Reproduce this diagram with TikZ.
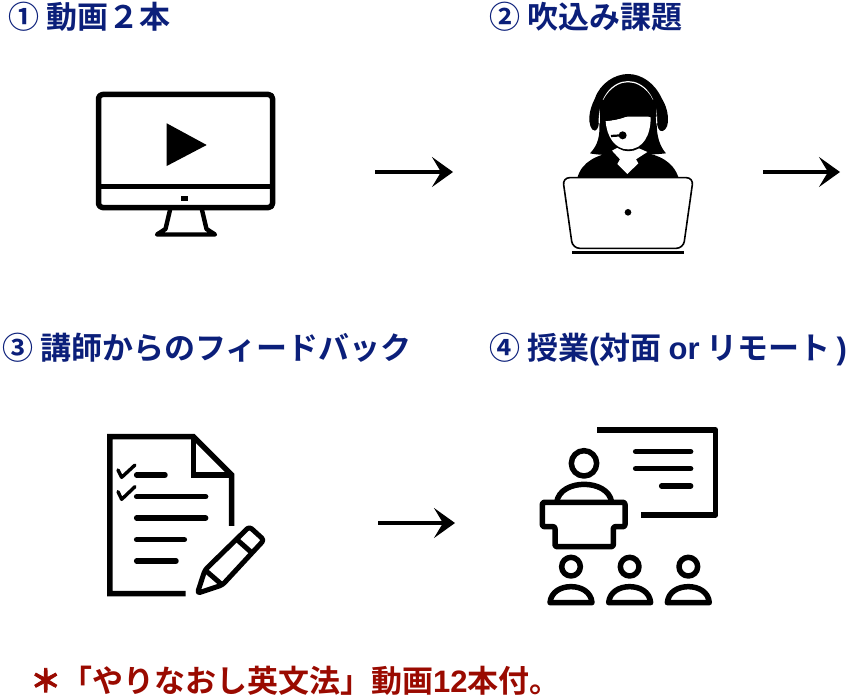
\documentclass[tikz,border=0pt]{standalone}
\usepackage{fontspec}
\usetikzlibrary{arrows.meta}
\newfontfamily\cjk{Noto Sans CJK JP Bold}
\newfontfamily\cjkfat[FakeBold=3]{Noto Sans CJK JP Bold}
\newfontfamily\lat{Liberation Sans Bold}
\definecolor{navy}{HTML}{0B1F7A}
\definecolor{dred}{HTML}{9A0A00}
\tikzset{
 title/.style={anchor=base west,inner sep=0pt,text=navy,font=\cjk\fontsize{31}{31}\selectfont},
 note/.style={anchor=base west,inner sep=0pt,text=dred,font=\cjk\fontsize{31}{31}\selectfont},
 flow/.style={line width=3.6pt,-{Stealth[length=21pt,width=30pt,inset=9pt]}},
 zoomA/.style={shift={(#1)},x=.3333pt,y=-.3333pt},
 ink/.style={line width=5.5pt,line cap=round,line join=round},
 thin ink/.style={line width=3.4pt,line cap=round,line join=round},
}
\begin{document}
\begin{tikzpicture}[x=1pt,y=-1pt]
\useasboundingbox (0,0) rectangle (850,698);
\fill[white] (0,0) rectangle (850,698);
% titles
\node[title] (t1) at (8,29) {① 動画２本};
\node[title] (t2) at (489,29) {② 吹込み課題};
\node[title] (t3) at (2,359) {③ 講師からのフィードバック};
\node[title] (t4) at (489,359) {④ 授業{\lat(}対面 {\lat or} リモート\hspace{6pt}{\lat)}};
\node[note] (n1) at (30,692) {{\cjkfat ＊}「やりなおし英文法」動画{\lat 12}本付。};
% arrows
\coordinate (a1s) at (375,172); \coordinate (a1e) at (453,172);
\coordinate (a2s) at (763,172); \coordinate (a2e) at (840,172);
\coordinate (a3s) at (378,523); \coordinate (a3e) at (455,523);
\draw[flow] (a1s) -- (a1e);
\draw[flow] (a2s) -- (a2e);
\draw[flow] (a3s) -- (a3e);
% monitor
\draw[ink,rounded corners=4pt] (98.5,94.5) rectangle (272.5,207.5);
\draw[line width=5pt] (98.5,186.5) -- (272.5,186.5);
\fill (181,196) rectangle (188,200.5);
\fill (166.7,123.3) -- (206.7,145) -- (166.7,166) -- cycle;
\draw[line width=4.4pt,line join=round,line cap=round] (170,210) -- (165.5,229) -- (157,234.5) -- (215,234.5) -- (206.5,229) -- (202,210);
% agent
\begin{scope}[zoomA={540,60}]
 \fill (112,354) .. controls (125,305) and (170,285) .. (225,275) -- (300,275) .. controls (360,285) and (400,305) .. (416,354) -- cycle;
 \fill (150,280) .. controls (175,255) and (180,225) .. (178,190) -- (178,100) -- (350,100) -- (350,190) .. controls (350,230) and (360,260) .. (378,280) .. controls (340,285) and (190,290) .. (150,280) -- cycle;
 \fill[white] (216,272) -- (240,298) -- (232,312) -- (262,342) -- (295,310) -- (288,298) -- (322,276) -- (290,262) -- (235,262) -- cycle;
 \fill (212,240) .. controls (235,285) and (295,285) .. (322,240) -- cycle;
 \fill[white] (197,183) .. controls (240,180) and (285,165) .. (305,138) .. controls (310,155) and (320,168) .. (332,172) .. controls (332,225) and (310,268) .. (264,268) .. controls (225,268) and (200,230) .. (197,183) -- cycle;
 % headband
 \fill (148,170) .. controls (150,150) and (155,135) .. (165,115) .. controls (180,70) and (225,42) .. (264,42) .. controls (305,42) and (345,70) .. (365,115) .. controls (378,135) and (385,160) .. (384,185) .. controls (383,205) and (370,218) .. (360,212) .. controls (352,205) and (350,190) .. (350,170) -- (178,170) .. controls (178,190) and (175,210) .. (165,212) .. controls (152,212) and (147,190) .. (148,170) -- cycle;
 \draw[white,line width=1.2pt] (178,190) .. controls (175,110) and (220,65) .. (264,65) .. controls (310,65) and (352,110) .. (350,190);
 \fill (178,120) -- (346,120) -- (350,170) -- (332,172) .. controls (320,168) and (310,155) .. (305,138) .. controls (285,165) and (240,180) .. (197,183) -- (181,190) -- cycle;
 \fill (264,70) .. controls (220,70) and (185,110) .. (182,150) -- (345,150) .. controls (345,110) and (310,70) .. (264,70) -- cycle;
 \draw[line width=2.2pt] (213,228) -- (245,226);
 \fill (248,226) circle[radius=12];
 \draw[line width=1.6pt,fill=white,rounded corners=7pt] (68,353) -- (460,353) -- (430,565) -- (98,565) -- cycle;
 \fill (264,457) circle[radius=10];
 \fill (97,572) rectangle (431,582);
\end{scope}
% document
\begin{scope}[zoomA={90,420}]
 \draw[line width=5.5pt,line join=miter] (287,521) -- (60,521) -- (60,50) -- (310,50) -- (425,165) -- (425,318);
 \draw[line width=5.5pt,line join=miter] (310,50) -- (310,165) -- (425,165);
 \draw[ink] (140,165) -- (225,165) (140,230) -- (347,230) (140,294) -- (347,294) (140,359) -- (283,359) (140,423) -- (258,423);
 \draw[thin ink] (84,150) -- (95,172) -- (135,135);
 \draw[thin ink] (84,215) -- (95,238) -- (135,200);
 \draw[line width=5pt,line join=round,line cap=round,rounded corners=3pt] (322,520) -- (345,450) -- (478,320) -- (522,360) -- (397,495) -- cycle;
 \draw[line width=5pt] (345,450) -- (397,495) (440,358) -- (484,397);
\end{scope}
% classroom
\begin{scope}[zoomA={525,415}]
 \draw[line width=5.5pt,line join=round] (217,45) -- (572,45) -- (572,300) -- (348,300);
 \draw[ink] (332,110) -- (497,110) (332,161) -- (497,161) (410,213) -- (497,213);
 \draw[ink] (177,145) circle[radius=38];
 \draw[ink] (95,262) .. controls (100,225) and (140,208) .. (177,208) .. controls (215,208) and (255,225) .. (260,262);
 \draw[ink,rounded corners=2pt] (52,262) -- (300,262) -- (300,335) -- (265,335) -- (265,395) -- (90,395) -- (90,335) -- (52,335) -- cycle;
 \foreach \c in {138,314,490}{
  \draw[ink] (\c,455) circle[radius=28];
  \draw[ink] (\c-63,563) .. controls (\c-60,530) and (\c-30,515) .. (\c,515) .. controls (\c+30,515) and (\c+60,530) .. (\c+63,563) -- cycle;
 }
\end{scope}
\end{tikzpicture}
\end{document}
